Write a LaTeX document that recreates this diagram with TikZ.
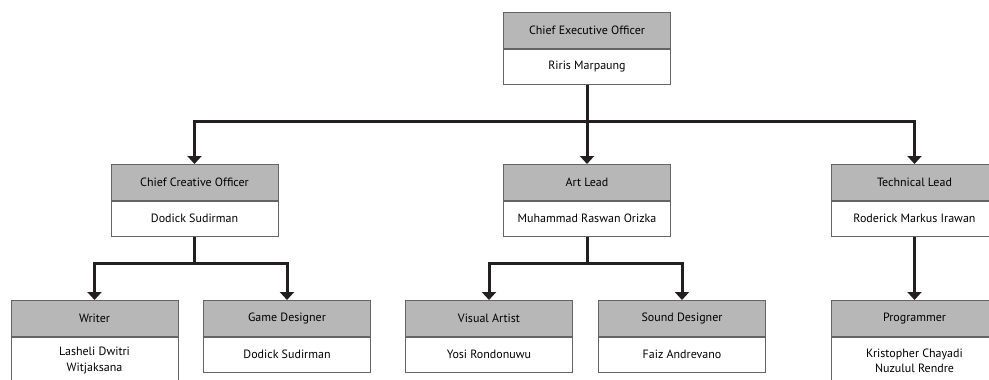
\documentclass[tikz,border=0pt]{standalone}
\usepackage{fontspec}
\setmainfont{PT Sans}
\usetikzlibrary{arrows.meta}
\definecolor{hdrc}{RGB}{183,183,183}
\definecolor{boxc}{RGB}{100,100,100}
\definecolor{linec}{RGB}{35,31,32}
\begin{document}
\begin{tikzpicture}[x=1pt,y=-1pt,
  hdr/.style={draw=boxc, fill=hdrc, line width=0.8pt, minimum width=167pt, minimum height=36pt, inner sep=0pt, anchor=north, font=\fontsize{12}{14}\selectfont, text=black},
  bdy/.style={draw=boxc, fill=white, line width=0.8pt, minimum width=167pt, minimum height=35pt, inner sep=0pt, anchor=north, align=center, font=\fontsize{12}{15.5}\selectfont, text=black},
  conn/.style={draw=linec, line width=3pt, line join=miter},
  arr/.style={conn, -{Triangle[width=14pt,length=8pt]}}]
\clip (0,0) rectangle (989,380);
\fill[white] (0,0) rectangle (989,380);
% level 0
\node[hdr] (ceoh) at (587,12) {Chief Executive Officer};
\node[bdy] (ceob) at (ceoh.south) {Riris Marpaung};
% level 1
\node[hdr] (ccoh) at (194.5,164) {Chief Creative Officer};
\node[bdy] (ccob) at (ccoh.south) {Dodick Sudirman};
\node[hdr] (arth) at (587,164) {Art Lead};
\node[bdy] (artb) at (arth.south) {Muhammad Raswan Orizka};
\node[hdr] (tech) at (914.5,164) {Technical Lead};
\node[bdy] (tecb) at (tech.south) {Roderick Markus Irawan};
% level 2
\node[hdr] (wrh) at (94.5,300) {Writer};
\node[bdy, minimum height=47pt] (wrb) at (wrh.south) {Lasheli Dwitri\\Witjaksana};
\node[hdr] (gdh) at (287,300) {Game Designer};
\node[bdy] (gdb) at (gdh.south) {Dodick Sudirman};
\node[hdr] (vah) at (489,300) {Visual Artist};
\node[bdy] (vab) at (vah.south) {Yosi Rondonuwu};
\node[hdr] (sdh) at (682,300) {Sound Designer};
\node[bdy] (sdb) at (sdh.south) {Faiz Andrevano};
\node[hdr] (prh) at (914.5,300) {Programmer};
\node[bdy, minimum height=47pt] (prb) at (prh.south) {Kristopher Chayadi\\Nuzulul Rendre};
% junctions
\coordinate (j0) at (587,121);
\coordinate (j1) at (194.5,263);
\coordinate (j2) at (587,263);
% connectors
\draw[arr] (ceob.south) -- (arth.north);
\draw[arr] (j0) -| (ccoh.north);
\draw[arr] (j0) -| (tech.north);
\draw[conn] (ccob.south) -- (j1);
\draw[arr] (j1) -| (wrh.north);
\draw[arr] (j1) -| (gdh.north);
\draw[conn] (artb.south) -- (j2);
\draw[arr] (j2) -| (vah.north);
\draw[arr] (j2) -| (sdh.north);
\draw[arr] (tecb.south) -- (prh.north);
\end{tikzpicture}
\end{document}
